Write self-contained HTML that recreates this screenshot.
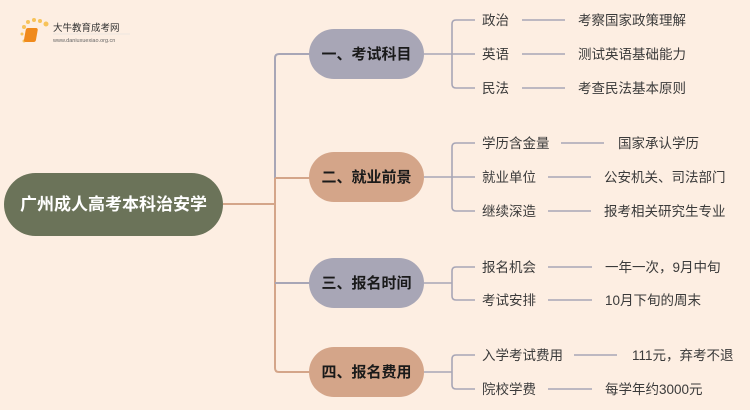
<!DOCTYPE html>
<html><head><meta charset="utf-8"><style>
html,body{margin:0;padding:0;background:#FDEEE2;}
svg{display:block;}
text{font-family:"Liberation Sans","Noto Sans CJK SC",sans-serif;}
.l{font-size:13.5px;fill:#3a3a3a;}
.n{font-size:15px;font-weight:bold;fill:#1a1a1a;}
</style></head><body>
<svg width="750" height="410" viewBox="0 0 750 410">
<rect width="750" height="410" fill="#FDEEE2"/>
<g>
<circle cx="24" cy="27" r="2" fill="#F7C35A"/><circle cx="28" cy="22" r="2" fill="#F7C35A"/><circle cx="34" cy="20" r="2" fill="#F7C35A"/><circle cx="40" cy="21" r="2" fill="#F7C35A"/><circle cx="46" cy="24" r="2.5" fill="#F7C35A"/><circle cx="22" cy="34" r="1.5" fill="#F7C35A"/><circle cx="24" cy="41" r="1.5" fill="#F7C35A"/>
<rect x="31" y="28" width="12" height="14" rx="2" fill="#F08A1C" transform="skewX(-10)"/>
<text x="53" y="31" font-size="9.5" fill="#333">大牛教育成考网</text>
<text x="53" y="42" font-size="5.5" fill="#666">www.daniuxuexiao.org.cn</text>
<line x1="53" y1="34" x2="130" y2="34" stroke="#ddd" stroke-width="0.6"/>
</g>
<g fill="none" stroke-width="2">
<path d="M223 204 H275" stroke="#D4A589"/>
<path d="M275 178 V58 Q275 54 279 54 H310" stroke="#A8A6B6"/>
<path d="M275 178 H310" stroke="#D4A589"/>
<path d="M275 178 V368 Q275 372 279 372 H310" stroke="#D4A589"/>
<path d="M275 283 H310" stroke="#A8A6B6"/>
</g>
<g fill="none" stroke="#A8A6B6" stroke-width="1.6">
<path d="M424 54 H452 M475 20 H456 Q452 20 452 24 V84 Q452 88 456 88 H475 M452 54 H475"/>
<path d="M522 20 H565 M522 54 H565 M522 88 H565"/>
<path d="M424 177 H452 M475 143 H456 Q452 143 452 147 V207 Q452 211 456 211 H475 M452 177 H475"/>
<path d="M561 143 H604 M548 177 H591 M548 211 H591"/>
<path d="M424 283 H452 M475 267 H456 Q452 267 452 271 V296 Q452 300 456 300 H475"/>
<path d="M548 267 H592 M548 300 H592"/>
<path d="M424 372 H452 M475 355 H456 Q452 355 452 359 V385 Q452 389 456 389 H475"/>
<path d="M574 355 H617 M548 389 H592"/>
</g>
<rect x="4" y="173" width="219" height="63" rx="31.5" fill="#6B7359"/>
<text x="113.5" y="210" text-anchor="middle" font-size="17" font-weight="bold" fill="#fff">广州成人高考本科治安学</text>
<rect x="309" y="29" width="115" height="50" rx="25" fill="#A8A6B6"/>
<rect x="309" y="152" width="115" height="50" rx="25" fill="#D4A589"/>
<rect x="309" y="258" width="115" height="50" rx="25" fill="#A8A6B6"/>
<rect x="309" y="347" width="115" height="50" rx="25" fill="#D4A589"/>
<text class="n" x="366.5" y="59" text-anchor="middle">一、考试科目</text>
<text class="n" x="366.5" y="182" text-anchor="middle">二、就业前景</text>
<text class="n" x="366.5" y="288" text-anchor="middle">三、报名时间</text>
<text class="n" x="366.5" y="377" text-anchor="middle">四、报名费用</text>
<g>
<text class="l" x="482" y="25">政治</text><text class="l" x="578" y="25">考察国家政策理解</text>
<text class="l" x="482" y="59">英语</text><text class="l" x="578" y="59">测试英语基础能力</text>
<text class="l" x="482" y="93">民法</text><text class="l" x="578" y="93">考查民法基本原则</text>
<text class="l" x="482" y="148">学历含金量</text><text class="l" x="618" y="148">国家承认学历</text>
<text class="l" x="482" y="182">就业单位</text><text class="l" x="604" y="182">公安机关、司法部门</text>
<text class="l" x="482" y="216">继续深造</text><text class="l" x="604" y="216">报考相关研究生专业</text>
<text class="l" x="482" y="272">报名机会</text><text class="l" x="605" y="272">一年一次，9月中旬</text>
<text class="l" x="482" y="305">考试安排</text><text class="l" x="605" y="305">10月下旬的周末</text>
<text class="l" x="482" y="360">入学考试费用</text><text class="l" x="632" y="360">111元，弃考不退</text>
<text class="l" x="482" y="394">院校学费</text><text class="l" x="605" y="394">每学年约3000元</text>
</g>
</svg>
</body></html>
